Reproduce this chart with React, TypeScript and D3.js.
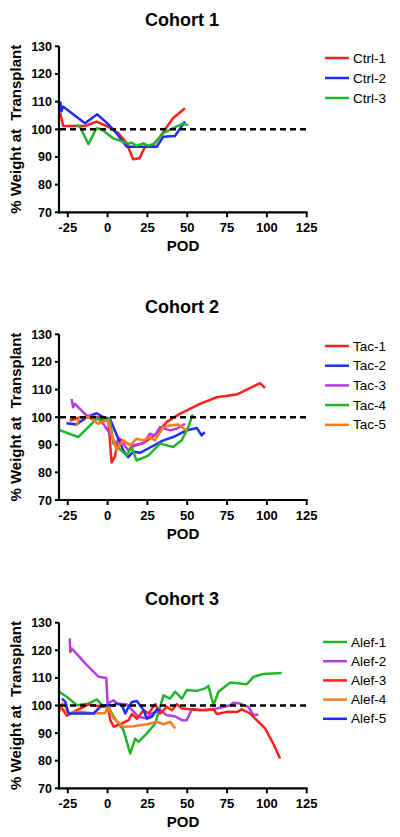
import React from "react";
import * as d3 from "d3";

type Pt = [number, number];

// ---------- Data (POD, % weight at transplant) ----------
const xTicks = [-25, 0, 25, 50, 75, 100, 125];
const yTicks = [70, 80, 90, 100, 110, 120, 130];
const baseline = 100;

const ctrl1: Pt[] = [[-29.7, 105.8], [-27.8, 101.2], [-14, 101.2], [-7, 102.8], [-0.6, 101.2], [6.7, 98.6], [12, 95], [16, 89.2], [20, 89.5], [23.5, 93.7], [27.6, 93.7], [32.9, 97.3], [41, 104], [48.6, 107.6]];
const ctrl2: Pt[] = [[-29.7, 110], [-29, 106.4], [-28, 108.2], [-14.2, 102.2], [-6.5, 105.4], [-0.6, 102.4], [5.6, 98.6], [12, 93.7], [25.5, 93.7], [30.8, 93.7], [35, 97.3], [42.3, 97.6], [48.6, 102.8]];
const ctrl3: Pt[] = [[-19.5, 101.6], [-17.4, 101], [-12, 94.6], [-7, 100.4], [-3.8, 100], [3.6, 96.7], [9.8, 95.5], [13, 94.7], [15, 95.2], [18.2, 94], [22.4, 94.9], [25.5, 94.1], [29.7, 94.9], [35, 98.6], [41.2, 100.4], [46.5, 101.9], [50.7, 101.6]];

const tac1: Pt[] = [[-23.7, 98.8], [-17, 100], [-5, 100], [0.4, 99.4], [2.5, 83.6], [4.6, 85.8], [6.7, 92.4], [12, 90.6], [16, 89.4], [22.4, 90.6], [30.8, 94], [37, 98.2], [45.4, 101.2], [58, 104.8], [68.5, 107.2], [81, 108.2], [95.7, 112.3], [98.8, 110.6]];
const tac2: Pt[] = [[-25.8, 97.8], [-19.5, 97.3], [-13.2, 100], [-6.9, 101.4], [-2.7, 100], [1.5, 99.4], [6.7, 92.2], [9.8, 88], [13, 85.5], [16, 87.5], [20.3, 87.1], [27, 89.1], [35, 91.6], [41.2, 92.8], [49.6, 95.2], [56, 96.1], [59, 93.4], [61, 94.6]];
const tac3: Pt[] = [[-22.6, 106.6], [-21.6, 103.6], [-20.5, 104.8], [-13.2, 100.6], [-6.9, 100], [-2.7, 97.6], [1.5, 94], [4.6, 91], [9.8, 90.4], [13, 88], [16, 89.8], [22.4, 90.6], [26.6, 94], [29.7, 93.4], [32.9, 96.4], [39.2, 95.2], [43.4, 95.8], [48.6, 97.6]];
const tac4: Pt[] = [[-30.5, 95.4], [-18.4, 92.8], [-6.9, 99.4], [-1.7, 98.8], [1.5, 99.4], [3.6, 90.4], [12, 86.2], [15, 89.2], [18.2, 84.3], [25.5, 86.1], [32.9, 90.4], [41.2, 89.2], [46.5, 91.6], [50.7, 96.4], [53.4, 101]];
const tac5: Pt[] = [[-19.5, 97], [-17.4, 100], [-12, 100], [-5.9, 97.6], [-1.7, 98.6], [0.4, 98.8], [2.5, 94], [5.6, 88], [9.8, 91.6], [14, 89.8], [18.2, 92.2], [22.4, 91.6], [26.6, 92.8], [29.7, 91.6], [35, 96.4], [39.2, 97], [44.4, 97.3], [49.6, 95.2]];

const alef1: Pt[] = [[-30.5, 105], [-25.5, 103.1], [-19.2, 100.1], [-11.9, 100.7], [-6.7, 102.2], [-2.5, 99.5], [0, 100.1], [3.8, 95.9], [10, 91], [14.2, 82.6], [17.3, 88], [19.4, 86.8], [24.7, 89.9], [29.9, 93.5], [35.1, 103.7], [39.3, 102.5], [42.4, 105], [46.6, 102.5], [49.7, 105.6], [56, 105.3], [61.2, 106.2], [63.3, 107.1], [66.5, 100.1], [69.6, 105], [77, 108.3], [87.4, 107.7], [91.6, 110.4], [97.8, 111.4], [109.3, 111.8]];
const alef2: Pt[] = [[-23.8, 124.3], [-23.4, 119.4], [-22.4, 120.6], [-13, 114.6], [-5.6, 110.4], [-0.8, 110], [0, 100.7], [3.8, 101.9], [5.9, 100.7], [12.1, 100.4], [19.4, 95.9], [24.7, 95.3], [27.8, 97.1], [33, 98.3], [37.2, 96.5], [42.4, 96.1], [46.6, 94.7], [49.7, 94.7], [52.9, 98.6], [62.3, 98.3], [68.6, 98.9], [77, 100.1], [79, 101], [83.2, 100.7], [88.4, 99.5], [91.6, 96.5], [94.7, 96.7]];
const alef3: Pt[] = [[-30, 100.1], [-25.5, 96.3], [-19.2, 98.3], [-11.9, 100.4], [-6.7, 99.8], [0, 100.1], [1.7, 94.7], [3.8, 92.3], [9, 93.5], [13.2, 94.7], [15.3, 96.9], [18.4, 95.2], [22.6, 98.3], [25.7, 97.1], [29.9, 100.5], [33, 97.1], [37.2, 99.5], [40.3, 98.3], [43.5, 100.5], [46.6, 98.9], [58.1, 98.3], [66.5, 98.6], [68.6, 96.9], [75, 97.7], [81.1, 97.6], [84.3, 98.6], [89.5, 97.1], [93.6, 94.7], [98.9, 91.7], [104, 86.2], [108.3, 80.8]];
const alef4: Pt[] = [[-30.5, 97.7], [-28.6, 100.7], [-26.5, 100.1], [-25.5, 97.1], [-17.1, 97.7], [-8.8, 97.1], [-1.5, 97.3], [0, 99.5], [3.8, 95.3], [10, 92.3], [16.3, 92.5], [24.7, 93.2], [30.9, 94.1], [35.1, 93.2], [39.3, 94.1], [42.4, 91.7]];
const alef5: Pt[] = [[-28.6, 102.5], [-26.5, 101.3], [-24.5, 97.1], [-17.1, 97.1], [-8.8, 97.1], [-4.6, 99.5], [0, 100.1], [3.8, 100.1], [5.9, 100.7], [9, 100.1], [11.1, 97.1], [13.2, 99.5], [15.3, 101.3], [18.4, 101.6], [22.6, 98.3], [24.7, 95.3], [27.8, 95.9], [30.9, 98.6], [33, 98.3]];

const RED = "#ff1f1f";
const BLUE = "#1e2cff";
const GREEN = "#22b52c";
const PURPLE = "#b23fe0";
const ORANGE = "#ff7b22";

type Series = { name: string; color: string; data: Pt[] };

const cohort1: Series[] = [
  { name: "Ctrl-1", color: RED, data: ctrl1 },
  { name: "Ctrl-2", color: BLUE, data: ctrl2 },
  { name: "Ctrl-3", color: GREEN, data: ctrl3 },
];
const cohort2: Series[] = [
  { name: "Tac-1", color: RED, data: tac1 },
  { name: "Tac-2", color: BLUE, data: tac2 },
  { name: "Tac-3", color: PURPLE, data: tac3 },
  { name: "Tac-4", color: GREEN, data: tac4 },
  { name: "Tac-5", color: ORANGE, data: tac5 },
];
const cohort3: Series[] = [
  { name: "Alef-1", color: GREEN, data: alef1 },
  { name: "Alef-2", color: PURPLE, data: alef2 },
  { name: "Alef-3", color: RED, data: alef3 },
  { name: "Alef-4", color: ORANGE, data: alef4 },
  { name: "Alef-5", color: BLUE, data: alef5 },
];

const FONT = "Liberation Sans, Arial, Helvetica, sans-serif";

type PanelProps = {
  title: string;
  series: Series[];
  top: number; // y pixel for 130
  bottom: number; // y pixel for 70
  titleY: number;
  legendY: number;
  legendStep: number;
  legendX: number;
};

function Panel({ title, series, top, bottom, titleY, legendY, legendStep, legendX }: PanelProps) {
  const x = d3.scaleLinear().domain([-30.5, 125]).range([59, 306.7]);
  const y = d3.scaleLinear().domain([70, 130]).range([bottom, top]);
  const line = d3
    .line<Pt>()
    .x((d) => x(d[0]))
    .y((d) => y(d[1]));
  const x0 = x.range()[0];
  const x1 = x.range()[1];
  return (
    <g>
      <text x={182} y={titleY} textAnchor="middle" fontFamily={FONT} fontWeight="bold" fontSize={18}>
        {title}
      </text>
      {/* data lines */}
      {series.map((s) => (
        <path key={s.name} d={line(s.data) || ""} fill="none" stroke={s.color} strokeWidth={2.5} strokeLinejoin="round" />
      ))}
      {/* dashed baseline */}
      <line x1={x0 + 1} x2={x1} y1={y(baseline)} y2={y(baseline)} stroke="#000" strokeWidth={2.5} strokeDasharray="6,4" />
      {/* y axis */}
      <line x1={x0} x2={x0} y1={top} y2={bottom + 1} stroke="#000" strokeWidth={2.2} />
      {yTicks.map((t) => (
        <g key={t}>
          <line x1={x0 - 4} x2={x0} y1={y(t)} y2={y(t)} stroke="#000" strokeWidth={2} />
          <text x={x0 - 7} y={y(t) + 4.5} textAnchor="end" fontFamily={FONT} fontWeight="bold" fontSize={12.5}>
            {t}
          </text>
        </g>
      ))}
      {/* x axis */}
      <line x1={x0 - 1} x2={x1 + 1} y1={bottom} y2={bottom} stroke="#000" strokeWidth={2.2} />
      {xTicks.map((t) => (
        <g key={t}>
          <line x1={x(t)} x2={x(t)} y1={bottom} y2={bottom + 5} stroke="#000" strokeWidth={2} />
          <text x={x(t)} y={bottom + 20} textAnchor="middle" fontFamily={FONT} fontWeight="bold" fontSize={13}>
            {t}
          </text>
        </g>
      ))}
      <text x={183} y={bottom + 39} textAnchor="middle" fontFamily={FONT} fontWeight="bold" fontSize={15}>
        POD
      </text>
      <text
        transform={`translate(21, ${(top + bottom) / 2}) rotate(-90)`}
        textAnchor="middle"
        fontFamily={FONT}
        fontWeight="bold"
        fontSize={15}
        style={{ whiteSpace: "pre" }}
      >
        {"% Weight at  Transplant"}
      </text>
      {/* legend */}
      {series.map((s, i) => (
        <g key={s.name}>
          <line x1={legendX} x2={legendX + 24} y1={legendY + i * legendStep} y2={legendY + i * legendStep} stroke={s.color} strokeWidth={2.5} />
          <text x={legendX + 28} y={legendY + i * legendStep + 4.5} fontFamily={FONT} fontSize={13.5}>
            {s.name}
          </text>
        </g>
      ))}
    </g>
  );
}

export default function App() {
  return (
    <svg
      width={400}
      height={837}
      viewBox="0 0 400 837"
      style={{ position: "absolute", left: 0, top: 0, background: "#fff" }}
    >
      <rect width={400} height={837} fill="#fff" />
      <Panel title="Cohort 1" series={cohort1} top={46.3} bottom={212.3} titleY={26} legendY={58} legendStep={20} legendX={325} />
      <Panel title="Cohort 2" series={cohort2} top={334.3} bottom={500} titleY={313} legendY={346} legendStep={19.7} legendX={325} />
      <Panel title="Cohort 3" series={cohort3} top={622.7} bottom={788.3} titleY={605} legendY={642} legendStep={19.2} legendX={323} />
    </svg>
  );
}
